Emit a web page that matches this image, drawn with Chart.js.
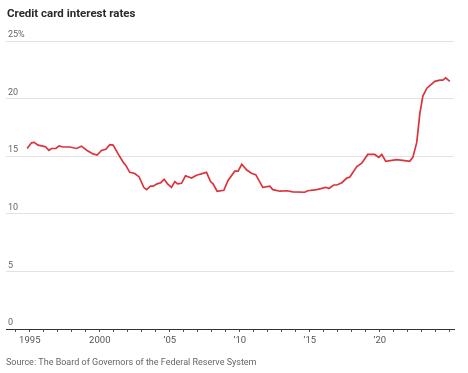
<!DOCTYPE html>
<html>
<head>
<meta charset="utf-8">
<script src="https://cdn.jsdelivr.net/npm/chart.js@4.4.1/dist/chart.umd.min.js"></script>
<style>
  body { margin: 0; background: #fff; }
  canvas { display: block; }
</style>
</head>
<body>
<canvas id="myChart" width="468" height="373"></canvas>
<script>
const years = [
  1994.81, 1995.12, 1995.31, 1995.59, 1995.95, 1996.14, 1996.36, 1996.55, 1996.86,
  1997.09, 1997.38, 1997.86, 1998.34, 1998.69, 1999.09, 1999.52, 1999.81,
  2000.12, 2000.43, 2000.71, 2000.95, 2001.31, 2001.66, 2001.86, 2002.14, 2002.5,
  2002.81, 2003.14, 2003.34, 2003.62, 2003.81, 2004.09, 2004.36, 2004.59, 2004.84,
  2005.12, 2005.36, 2005.55, 2005.84, 2006.12, 2006.55, 2006.91, 2007.62, 2007.91,
  2008.09, 2008.38, 2008.86, 2009.16, 2009.64, 2009.88, 2010.14, 2010.5, 2010.86,
  2011.14, 2011.64, 2012.14, 2012.36, 2012.86, 2013.36, 2013.79, 2014.64, 2014.86,
  2015.5, 2016.14, 2016.36, 2016.71, 2016.93, 2017.29, 2017.64, 2017.86, 2018.36,
  2018.71, 2019.14, 2019.64, 2019.93, 2020.14, 2020.43, 2021.21, 2021.91, 2022.14,
  2022.36, 2022.64, 2022.86, 2023.07, 2023.36, 2023.93, 2024.29, 2024.5, 2024.71, 2025.0
];
const rates = [
  15.67, 16.16, 16.2, 15.96, 15.87, 15.8, 15.5, 15.67, 15.67,
  15.9, 15.8, 15.8, 15.67, 15.87, 15.5, 15.2, 15.1,
  15.5, 15.6, 16.0, 15.96, 15.2, 14.5, 14.2, 13.6, 13.5,
  13.2, 12.3, 12.1, 12.4, 12.4, 12.6, 12.7, 13.0, 12.6,
  12.3, 12.8, 12.6, 12.65, 13.3, 13.1, 13.35, 13.6, 12.8,
  12.6, 11.96, 12.04, 12.9, 13.7, 13.7, 14.3, 13.8, 13.5,
  13.4, 12.3, 12.4, 12.1, 11.96, 12.0, 11.9, 11.87, 12.0,
  12.1, 12.3, 12.2, 12.5, 12.5, 12.7, 13.1, 13.2, 14.1,
  14.4, 15.15, 15.15, 14.9, 15.15, 14.55, 14.7, 14.6, 14.55,
  14.9, 16.2, 18.7, 20.2, 20.9, 21.5, 21.6, 21.6, 21.8, 21.5
];

const xTickYears = [1995, 2000, 2005, 2010, 2015, 2020];
const xTickText = ["1995", "2000", "\u201905", "\u201910", "\u201915", "\u201920"];
const yTickValues = [0, 5, 10, 15, 20, 25];
const yTickText = ["0", "5", "10", "15", "20", "25%"];

const titleText = "Credit card interest rates";
const sourceText = "Source: The Board of Governors of the Federal Reserve System";

const textPlugin = {
  id: "texts",
  afterDraw(chart) {
    const c = chart.ctx;
    c.save();
    c.textBaseline = "alphabetic";
    c.textAlign = "left";
    c.fillStyle = "#2a2a2a";
    c.font = "bold 11.5px Roboto, sans-serif";
    c.fillText(titleText, 7, 17);
    c.fillStyle = "#666";
    c.font = "9px Roboto, sans-serif";
    c.fillText(sourceText, 6, 365);
    c.restore();
  }
};

const ctx = document.getElementById("myChart");

new Chart(ctx, {
  type: "line",
  data: {
    datasets: [{
      data: years.map((x, i) => ({ x: x, y: rates[i] })),
      borderColor: "#db343c",
      borderWidth: 1.7,
      pointRadius: 0,
      tension: 0,
      fill: false
    }]
  },
  options: {
    responsive: false,
    animation: false,
    devicePixelRatio: 1,
    layout: { padding: { left: 6, right: 14, top: 41, bottom: 24 } },
    plugins: {
      legend: { display: false },
      tooltip: { enabled: false }
    },
    scales: {
      x: {
        type: "linear",
        min: 1993.3,
        max: 2025.3,
        afterBuildTicks: function(scale) {
          const t = [];
          for (let y = 1994; y <= 2025; y++) t.push({ value: y });
          scale.ticks = t;
        },
        afterFit: function(scale) { scale.height = 20; },
        grid: {
          drawOnChartArea: false,
          drawTicks: true,
          tickLength: 3,
          color: "#555"
        },
        border: { display: true, color: "#333", width: 1 },
        ticks: {
          autoSkip: false,
          maxRotation: 0,
          padding: 3,
          color: "#555",
          font: { family: "Roboto", size: 9.5 },
          callback: function(v) {
            const i = xTickYears.indexOf(v);
            return i >= 0 ? xTickText[i] : "";
          }
        }
      },
      y: {
        min: 0,
        max: 25,
        afterBuildTicks: function(scale) {
          scale.ticks = yTickValues.map(v => ({ value: v }));
        },
        afterFit: function(scale) { scale.width = 0; },
        grid: { color: "#e2e2e2", drawTicks: false },
        border: { display: false },
        ticks: {
          mirror: true,
          padding: 2,
          labelOffset: -6,
          color: "#666",
          font: { family: "Roboto", size: 9 },
          callback: function(v) {
            const i = yTickValues.indexOf(v);
            return i >= 0 ? yTickText[i] : "";
          }
        }
      }
    }
  },
  plugins: [textPlugin]
});
</script>
</body>
</html>
